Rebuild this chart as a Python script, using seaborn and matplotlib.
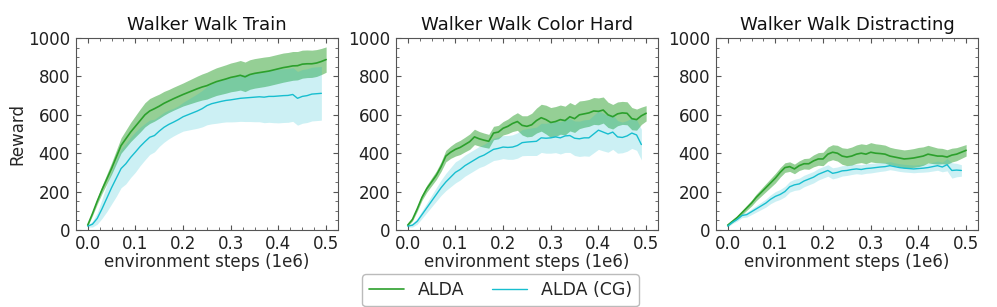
import numpy as np
import pandas as pd
import matplotlib
matplotlib.use("Agg")
import matplotlib.pyplot as plt
from matplotlib.ticker import AutoMinorLocator
import seaborn as sns

# ── Data ─────────────────────────────────────────────────────────────────────
TITLES = ["Walker Walk Train", "Walker Walk Color Hard", "Walker Walk Distracting"]
STEPS_ALDA = np.round(np.arange(0, 51) * 0.01, 2)     # 0.00 .. 0.50
STEPS_CG   = np.round(np.arange(0, 50) * 0.01, 2)     # 0.00 .. 0.49

train_alda = [25, 85, 150, 210, 265, 320, 380, 440, 475, 510,
              540, 570, 600, 620, 632, 645, 660, 672, 684, 695,
              706, 716, 726, 736, 745, 752, 763, 773, 780, 787,
              795, 800, 806, 798, 810, 816, 820, 824, 828, 834,
              840, 846, 850, 855, 856, 864, 866, 866, 870, 878, 888]
train_alda_sd = [5, 10, 15, 20, 25, 30, 35, 40, 45, 50,
                 55, 60, 63, 65, 65, 63, 62, 60, 60, 60,
                 60, 62, 64, 66, 68, 70, 71, 72, 73, 74,
                 75, 76, 77, 77, 77, 77, 77, 77, 76, 76,
                 76, 76, 75, 75, 74, 73, 72, 71, 70, 68, 66]
train_cg = [20, 30, 60, 110, 165, 220, 270, 320, 345, 378,
            406, 435, 460, 483, 492, 515, 535, 550, 562, 575,
            590, 600, 610, 620, 632, 648, 658, 664, 670, 675,
            678, 682, 686, 688, 690, 692, 694, 692, 696, 696,
            698, 700, 701, 706, 686, 696, 700, 708, 710, 712]
train_cg_sd = [5, 15, 30, 50, 70, 85, 95, 100, 105, 105,
               105, 100, 95, 90, 85, 80, 78, 75, 72, 72,
               75, 80, 85, 90, 95, 100, 105, 108, 110, 112,
               115, 118, 120, 123, 125, 128, 130, 133, 135, 137,
               140, 140, 140, 140, 140, 140, 140, 140, 140, 140]

hard_alda = [25, 55, 110, 170, 215, 250, 285, 330, 385, 405,
             420, 430, 445, 460, 485, 475, 468, 462, 505, 510,
             530, 540, 555, 565, 545, 540, 548, 570, 585, 575,
             560, 565, 575, 570, 590, 580, 600, 605, 610, 620,
             618, 625, 600, 590, 605, 610, 608, 580, 575, 595, 608]
hard_alda_sd = [5, 8, 12, 15, 18, 20, 22, 25, 30, 32,
                35, 37, 38, 40, 40, 38, 37, 36, 35, 35,
                35, 38, 42, 46, 50, 55, 60, 65, 70, 75,
                78, 78, 76, 75, 74, 72, 72, 70, 70, 70,
                70, 68, 66, 64, 62, 60, 60, 58, 55, 45, 40]
hard_cg = [20, 25, 45, 80, 115, 150, 185, 220, 250, 275,
           300, 315, 335, 350, 365, 380, 390, 405, 420, 425,
           432, 430, 432, 440, 455, 458, 460, 462, 480, 478,
           480, 485, 480, 490, 492, 478, 475, 480, 480, 500,
           520, 510, 500, 510, 485, 482, 490, 505, 495, 445]
hard_cg_sd = [5, 10, 15, 20, 25, 30, 35, 40, 45, 50,
              55, 55, 55, 55, 55, 55, 56, 57, 58, 59,
              60, 62, 64, 66, 68, 70, 72, 74, 76, 78,
              80, 82, 84, 86, 88, 90, 92, 94, 96, 98,
              100, 98, 95, 90, 85, 80, 80, 80, 80, 80]

dist_alda = [25, 45, 65, 90, 115, 140, 170, 195, 220, 245,
             270, 300, 325, 330, 318, 335, 345, 345, 360, 370,
             370, 395, 405, 400, 385, 380, 385, 395, 400, 395,
             405, 400, 398, 395, 385, 380, 375, 370, 372, 375,
             380, 385, 395, 390, 385, 385, 380, 390, 395, 405, 415]
dist_alda_sd = [5, 7, 9, 11, 13, 15, 17, 19, 21, 23,
                25, 25, 25, 25, 25, 25, 27, 29, 31, 33,
                35, 37, 39, 41, 43, 45, 47, 48, 49, 50,
                50, 49, 48, 47, 46, 45, 46, 47, 48, 49,
                50, 48, 46, 44, 42, 40, 38, 36, 34, 32, 30]
dist_cg = [20, 40, 55, 75, 80, 95, 110, 125, 140, 160,
           175, 185, 200, 225, 235, 240, 255, 265, 275, 290,
           300, 310, 295, 300, 308, 310, 315, 318, 315, 320,
           322, 325, 328, 330, 335, 330, 325, 322, 320, 318,
           320, 322, 325, 330, 335, 328, 340, 310, 312, 310]
dist_cg_sd = [5, 7, 9, 11, 13, 15, 17, 19, 21, 23,
              25, 26, 27, 28, 29, 30, 30, 30, 30, 30,
              30, 30, 29, 28, 27, 26, 26, 25, 25, 25,
              25, 24, 23, 22, 21, 20, 20, 20, 20, 20,
              20, 21, 22, 23, 24, 25, 32, 40, 35, 30]

PANELS = [
    (train_alda, train_alda_sd, train_cg, train_cg_sd),
    (hard_alda, hard_alda_sd, hard_cg, hard_cg_sd),
    (dist_alda, dist_alda_sd, dist_cg, dist_cg_sd),
]

GREEN = "#2ca02c"
CYAN  = "#17becf"

# ── Styling ──────────────────────────────────────────────────────────────────
sns.set_theme(style="ticks")
plt.rcParams.update({
    "font.family": ["DejaVu Sans"],
    "axes.edgecolor": "#555555",
    "axes.linewidth": 0.8,
    "xtick.color": "#555555",
    "ytick.color": "#555555",
    "xtick.labelcolor": "#222222",
    "ytick.labelcolor": "#222222",
})

fig, axes = plt.subplots(1, 3, figsize=(9.97, 3.07), dpi=100)
fig.subplots_adjust(left=0.076, right=0.981, top=0.876, bottom=0.251, wspace=0.22)

for ax, title, (a_mean, a_sd, c_mean, c_sd) in zip(axes, TITLES, PANELS):
    df_a = pd.DataFrame({"step": STEPS_ALDA, "reward": a_mean, "sd": a_sd})
    df_c = pd.DataFrame({"step": STEPS_CG, "reward": c_mean, "sd": c_sd})

    ax.fill_between(df_a["step"], df_a["reward"] - df_a["sd"], df_a["reward"] + df_a["sd"],
                    color=GREEN, alpha=0.5, linewidth=0)
    ax.fill_between(df_c["step"], df_c["reward"] - df_c["sd"], df_c["reward"] + df_c["sd"],
                    color=CYAN, alpha=0.22, linewidth=0)
    sns.lineplot(data=df_a, x="step", y="reward", ax=ax, color=GREEN, linewidth=1.2,
                 label="ALDA", legend=False)
    sns.lineplot(data=df_c, x="step", y="reward", ax=ax, color=CYAN, linewidth=1.0,
                 label="ALDA (CG)", legend=False)

    for side in ["top", "right"]:
        ax.spines[side].set_visible(True)
    ax.set_title(title, fontsize=13, color="#111111")
    ax.set_ylim(0, 1000)
    ax.set_yticks([0, 200, 400, 600, 800, 1000])
    ax.set_xticks([0.0, 0.1, 0.2, 0.3, 0.4, 0.5])
    ax.xaxis.set_minor_locator(AutoMinorLocator(4))
    ax.yaxis.set_minor_locator(AutoMinorLocator(4))
    ax.tick_params(which="both", top=True, right=True, direction="in")
    ax.tick_params(which="major", length=3.5, width=0.8, labelsize=12, pad=4)
    ax.tick_params(which="minor", length=2, width=0.6)
    ax.set_xlabel("environment steps (1e6)", fontsize=12, labelpad=0)
    ax.set_ylabel("")

axes[0].set_ylabel("Reward", fontsize=12, labelpad=1)

handles, labels = axes[0].get_legend_handles_labels()
fig.legend(handles, labels, loc="lower center", ncol=2, bbox_to_anchor=(0.502, -0.025),
           fontsize=12.5, frameon=True, handlelength=2.0, columnspacing=1.6,
           edgecolor="#aaaaaa", fancybox=True)

fig.savefig("out.png", dpi=100)
